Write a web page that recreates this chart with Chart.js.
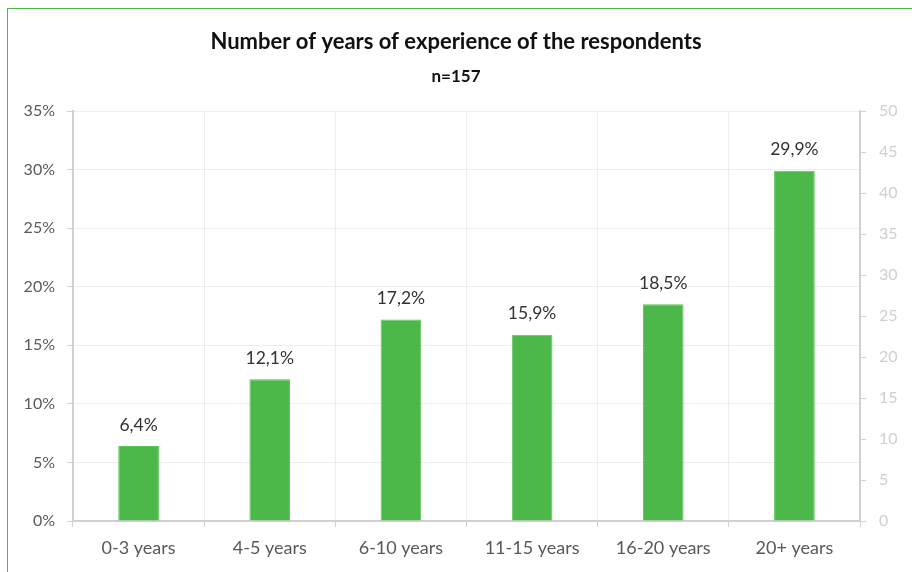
<!DOCTYPE html>
<html>
<head>
<meta charset="utf-8">
<script src="https://cdn.jsdelivr.net/npm/chart.js@4.4.1/dist/chart.umd.min.js"></script>
<style>
  body { margin: 0; background: #fff; overflow: hidden; }
  .frame { position: absolute; left: 7px; top: 8px; width: 940px; height: 600px; border: 1.5px solid #4cb84a; }
  #expChart { position: absolute; left: 0; top: 0; }
</style>
</head>
<body>
<div class="frame"></div>
<canvas id="expChart" width="912" height="572"></canvas>
<script>
// Years of experience, share of respondents (n=157)
const categories = ['0-3 years', '4-5 years', '6-10 years', '11-15 years', '16-20 years', '20+ years'];
const shares = [6.4, 12.1, 17.2, 15.9, 18.5, 29.9];
const percentTicks = [0, 5, 10, 15, 20, 25, 30, 35];
const countTicks = [0, 5, 10, 15, 20, 25, 30, 35, 40, 45, 50];

const tickFont = { family: 'Lato', size: 16 };

// value labels above each bar, written as "6,4%"
const barLabels = {
  id: 'barLabels',
  afterDatasetsDraw(chart) {
    const ctx = chart.ctx;
    const meta = chart.getDatasetMeta(0);
    ctx.save();
    ctx.font = '17.5px Lato';
    ctx.fillStyle = '#333333';
    ctx.textAlign = 'center';
    ctx.textBaseline = 'middle';
    meta.data.forEach((bar, i) => {
      const txt = shares[i].toFixed(1).replace('.', ',') + '%';
      ctx.fillText(txt, bar.x, bar.y - 21);
    });
    ctx.restore();
  }
};

const ctx = document.getElementById('expChart').getContext('2d');
new Chart(ctx, {
  type: 'bar',
  data: {
    labels: categories,
    datasets: [{
      data: shares,
      backgroundColor: '#4cb84a',
      borderColor: '#5cc45a',
      borderWidth: 1,
      categoryPercentage: 1,
      barPercentage: 0.31,
      yAxisID: 'y'
    }]
  },
  options: {
    responsive: false,
    devicePixelRatio: 1,
    animation: false,
    layout: { padding: 0 },
    plugins: {
      legend: { display: false },
      tooltip: { enabled: false },
      title: {
        display: true,
        text: 'Number of years of experience of the respondents',
        color: '#111111',
        font: { family: 'Lato', size: 22, weight: 'bold' },
        padding: { top: 29, bottom: 11.4 }
      },
      subtitle: {
        display: true,
        text: 'n=157',
        color: '#111111',
        font: { family: 'Lato', size: 17, weight: 'bold' },
        padding: { top: 0, bottom: 23.8 }
      }
    },
    scales: {
      x: {
        grid: { color: '#eeeeee', tickColor: '#d0d0d0', tickLength: 6, offset: true },
        border: { color: '#d0d0d0', width: 2 },
        ticks: { color: '#595959', font: { family: 'Lato', size: 18 }, padding: 10, maxRotation: 0 },
        afterFit(scale) { scale.height = 51; }
      },
      y: {
        position: 'left',
        min: 0,
        max: 35,
        afterBuildTicks(scale) { scale.ticks = percentTicks.map(v => ({ value: v })); },
        grid: { color: '#eeeeee', tickColor: '#d0d0d0', tickLength: 6 },
        border: { color: '#d0d0d0', width: 2 },
        ticks: { color: '#595959', font: tickFont, padding: 12, callback: v => v + '%' },
        afterFit(scale) { scale.width = 73; }
      },
      y1: {
        position: 'right',
        min: 0,
        max: 50,
        afterBuildTicks(scale) { scale.ticks = countTicks.map(v => ({ value: v })); },
        grid: { drawOnChartArea: false, tickColor: '#d0d0d0', tickLength: 6 },
        border: { color: '#d0d0d0', width: 2 },
        ticks: { color: '#cfcfcf', font: tickFont, padding: 13 },
        afterFit(scale) { scale.width = 52; }
      }
    }
  },
  plugins: [barLabels]
});
</script>
</body>
</html>
